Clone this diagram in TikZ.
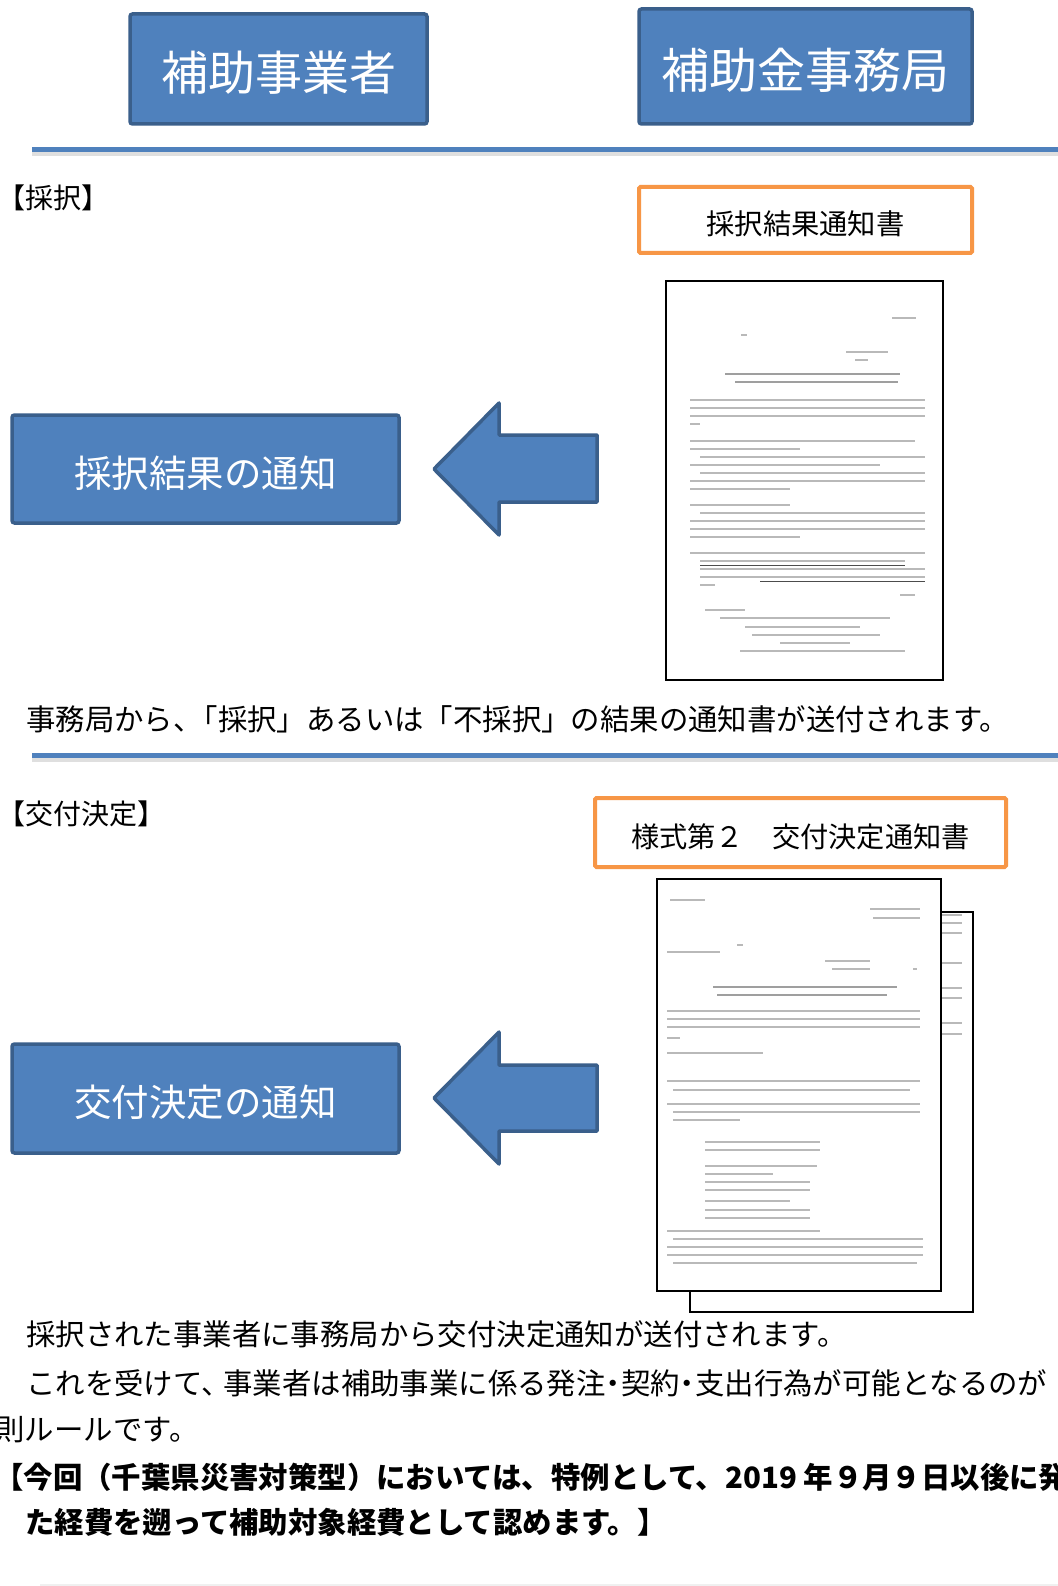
\documentclass[tikz,border=0pt]{standalone}
\usepackage{fontspec}
\newfontfamily\cjk{Noto Sans CJK JP}
\definecolor{boxblue}{HTML}{4F81BD}
\definecolor{boxedge}{HTML}{3A5F8B}
\definecolor{orng}{HTML}{F79646}
\begin{document}
\begin{tikzpicture}[x=1pt,y=-1pt,
  bluebox/.style={draw=boxedge, fill=boxblue, line width=3.5pt, rounded corners=2.5pt, inner sep=0pt},
  orangebox/.style={draw=orng, fill=white, line width=4pt, rounded corners=1.5pt, inner sep=0pt},
  boxtext/.style={inner sep=0pt, text=white},
  titletext/.style={inner sep=0pt, text=black},
  docpage/.style={draw=black, fill=white, line width=2.4pt, inner sep=0pt},
  bigarrow/.style={draw=boxedge, fill=boxblue, line width=3.5pt, line join=round},
  sepline/.style={draw=boxblue, line width=5pt},
  sepshadow/.style={draw=gray!25, line width=4pt},
  txl/.style={draw=gray!55, line width=2.2pt},
  txd/.style={draw=gray!75, line width=2.4pt},
  lbl/.style={inner sep=0pt, anchor=base west, font=\cjk\fontsize{28}{28}\selectfont},
  body/.style={inner sep=0pt, anchor=base west, font=\cjk\fontsize{29.4}{29.4}\selectfont},
  boldbody/.style={inner sep=0pt, anchor=base west, font=\cjk\bfseries\fontsize{29.4}{29.4}\selectfont},
]
\useasboundingbox (0,0) rectangle (1057,1586);
\fill[white] (0,0) rectangle (1057,1586);

% header boxes
\node[bluebox, minimum width=297pt, minimum height=110pt] (hdrA) at (278.5,69) {};
\node[boxtext, font=\cjk\fontsize{47}{47}\selectfont] (hdrAt) at ([yshift=-4pt]hdrA.center) {補助事業者};
\node[bluebox, minimum width=333pt, minimum height=115pt] (hdrB) at (805.5,66.5) {};
\node[boxtext, font=\cjk\fontsize{48}{48}\selectfont] (hdrBt) at ([yshift=-4pt]hdrB.center) {補助金事務局};

% separator 1
\draw[sepshadow] (32,154) -- (1060,154);
\draw[sepline] (32,149.5) -- (1060,149.5);

% section 1
\node[lbl] (secA) at (-3,209) {【採択】};
\node[orangebox, minimum width=333pt, minimum height=66pt] (titleA) at (805.5,220) {};
\node[titletext, font=\cjk\fontsize{28.3}{28.3}\selectfont] (titleAt) at ([yshift=-4pt]titleA.center) {採択結果通知書};

% document 1
\node[docpage, minimum width=277pt, minimum height=399pt] (docA) at (804.5,480.5) {};
\foreach \y/\a/\b in {318/892/916, 335/741/747, 352/846/888, 360/855/868,
  400/690/925, 408/690/925, 416/690/925, 424/690/700,
  441/690/915, 449/690/800, 457/700/925, 465/690/880, 473/700/925, 481/690/925, 489/690/790,
  505/690/790, 513/700/925, 521/690/925, 529/690/925, 537/690/800,
  553/690/925, 561/700/905, 569/700/925, 577/700/925, 585/700/715,
  595/900/915, 610/705/745, 618/720/890, 627/745/860, 635/752/880, 643/780/850, 651/740/905}
  \draw[txl] (\a,\y) -- (\b,\y);
\draw[txd] (725,374) -- (900,374);
\draw[txd] (735,382) -- (898,382);
\draw[black!70, line width=0.8pt] (700,565) -- (905,565);
\draw[black!70, line width=0.8pt] (760,581) -- (925,581);

\node[bluebox, minimum width=387pt, minimum height=108pt] (noteA) at (205.5,469) {};
\node[boxtext, font=\cjk\fontsize{37.5}{37.5}\selectfont] (noteAt) at ([yshift=-4pt]noteA.center) {採択結果の通知};
\draw[bigarrow] (434,469) -- (499,403) -- (499,435) -- (597,435) -- (597,502) -- (499,502) -- (499,535) -- cycle;

\node[body] (textA) at (26,730) {事務局から、\hspace{-14pt}「採択」あるいは「不採択」の結果の通知書が送付されます。};

% separator 2
\draw[sepshadow] (32,760) -- (1060,760);
\draw[sepline] (32,755.5) -- (1060,755.5);

% section 2
\node[lbl] (secB) at (-3,824.5) {【交付決定】};
\node[orangebox, minimum width=411pt, minimum height=69pt] (titleB) at (800.5,832.5) {};
\node[titletext, font=\cjk\fontsize{28.2}{28.2}\selectfont] (titleBt) at ([yshift=-4pt]titleB.center) {様式第２　交付決定通知書};

% document 2 (back page)
\node[docpage, minimum width=283pt, minimum height=400pt] (docBb) at (831.5,1112) {};
\foreach \y in {915,923,933,963,988,998,1023,1034}
  \draw[txl] (930,\y) -- (962,\y);
% document 2 (front page)
\node[docpage, minimum width=284pt, minimum height=412pt] (docBf) at (799,1085) {};
\foreach \y/\a/\b in {900/670/705, 909/870/920, 918/873/920, 945/737/743, 952/667/720,
  961/825/870, 969/832/870,
  1011/667/920, 1019/667/920, 1027/667/920, 1038/667/680,
  1053/667/763, 1081/667/920, 1090/673/910,
  1104/667/920, 1112/673/920, 1120/673/740,
  1142/705/820, 1150/705/820, 1166/705/817, 1174/705/773, 1182/705/810, 1190/705/810,
  1201/705/790, 1210/705/810, 1218/705/810,
  1231/667/820, 1239/673/923, 1247/667/923, 1255/667/923, 1263/673/917}
  \draw[txl] (\a,\y) -- (\b,\y);
\draw[txl] (913,969) -- (917,969);
\draw[txd] (713,987) -- (897,987);
\draw[txd] (717,995) -- (887,995);

\node[bluebox, minimum width=387pt, minimum height=109pt] (noteB) at (205.5,1098.5) {};
\node[boxtext, font=\cjk\fontsize{37.5}{37.5}\selectfont] (noteBt) at ([yshift=-4pt]noteB.center) {交付決定の通知};
\draw[bigarrow] (434,1098) -- (499,1032) -- (499,1065) -- (597,1065) -- (597,1131) -- (499,1131) -- (499,1164) -- cycle;

% body text
\node[body] (l1) at (26,1345) {採択された事業者に事務局から交付決定通知が送付されます。};
\node[body] (l2) at (26,1394) {これを受けて、\hspace{-7pt}事業者は補助事業に係る発注\hspace{-7pt}・\hspace{-7pt}契約\hspace{-7pt}・\hspace{-7pt}支出行為が可能となるのが};
\node[body] (l3) at (-34,1440) {原則ルールです。};
\node[boldbody] (l4) at (-6,1488) {【今回（千葉県災害対策型）においては、特例として、2019 年９月９日以後に発};
\node[boldbody] (l5) at (25,1533) {た経費を遡って補助対象経費として認めます。】};

% faint rule at the bottom edge
\draw[gray!12, line width=2pt] (40,1585) -- (1060,1585);
\end{tikzpicture}
\end{document}
